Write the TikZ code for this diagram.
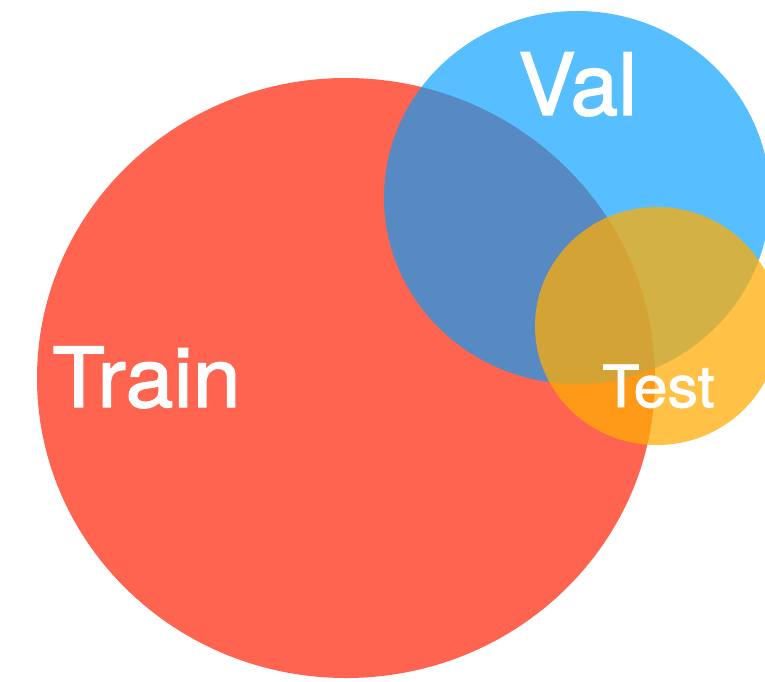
\documentclass[tikz,border=0pt]{standalone}
\usepackage{fontspec}
\setmainfont{TeX Gyre Heros}
\newfontfamily\medfont[FakeBold=1.6]{TeX Gyre Heros}
\definecolor{trainc}{RGB}{255,100,80}
\definecolor{valc}{RGB}{0,158,255}
\definecolor{testc}{RGB}{255,172,5}
\tikzset{
  settrain/.style={fill=trainc},
  setval/.style={fill=valc, fill opacity=0.66},
  settest/.style={fill=testc, fill opacity=0.74},
  lbl/.style={text=white, inner sep=0pt, anchor=base west}
}
\begin{document}
\begin{tikzpicture}[x=1pt,y=-1pt]
\useasboundingbox (0,0) rectangle (765,681);
\begin{scope}
\clip (0,0) rectangle (765,681);
\path[settrain] (346,378) ellipse [x radius=309, y radius=300];
\path[setval] (577,197.5) ellipse [x radius=193, y radius=186.5];
\path[settest] (657,326) ellipse [x radius=122, y radius=119];
\end{scope}
\node[lbl, font=\medfont\fontsize{83}{83}\selectfont, xscale=1.04] (train) at (52,407) {Train};
\node[lbl, font=\medfont\fontsize{86}{86}\selectfont] (val) at (518,115) {Val};
\node[lbl, font=\medfont\fontsize{58}{58}\selectfont, xscale=1.05] (test) at (602,407) {Test};
\end{tikzpicture}
\end{document}
